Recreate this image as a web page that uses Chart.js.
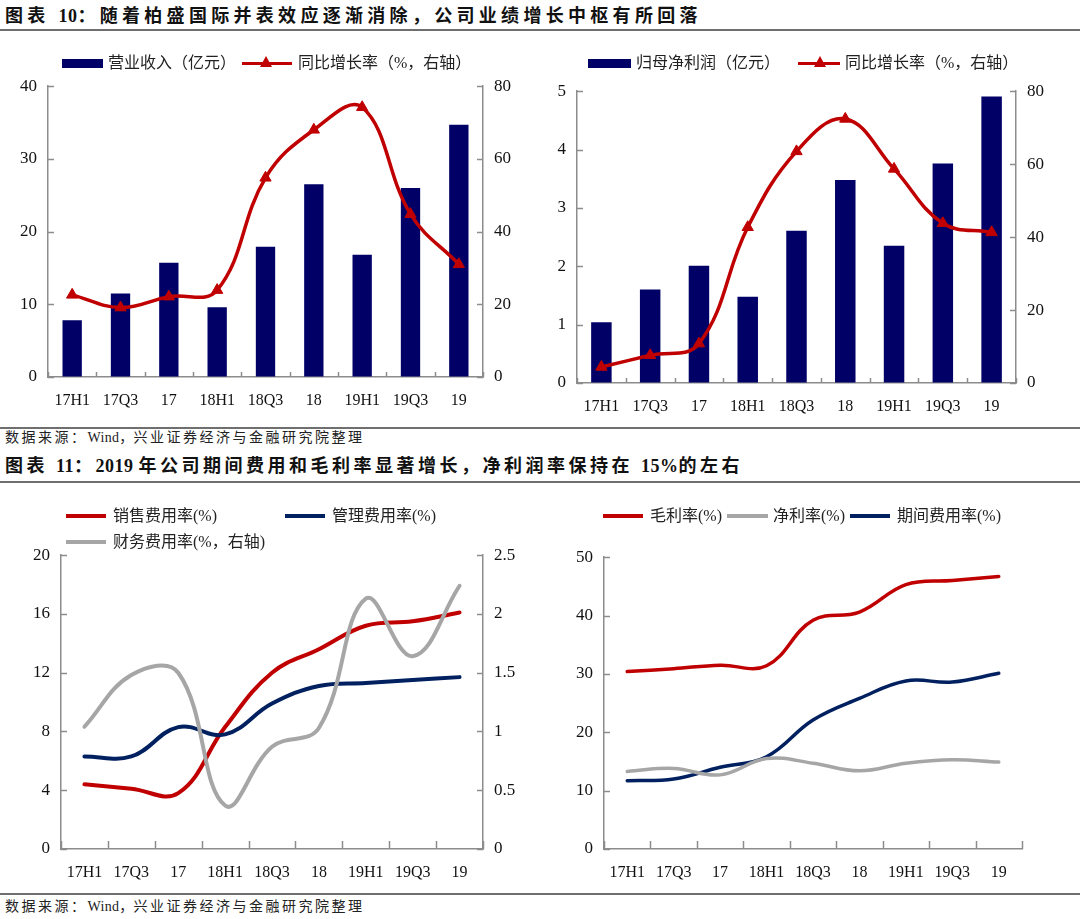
<!DOCTYPE html>
<html><head><meta charset="utf-8">
<script src="https://cdn.jsdelivr.net/npm/chart.js@4/dist/chart.umd.min.js"></script>
<style>
body{margin:0;background:#fff;}
#page{position:relative;width:1080px;height:919px;overflow:hidden;background:#fff;font-family:"Liberation Serif","Noto Sans CJK SC",serif;color:#111;}
.abs{position:absolute;}
.title{font-family:"Liberation Serif","Noto Sans CJK SC";font-weight:700;font-size:18px;line-height:22px;letter-spacing:4.3px;white-space:nowrap;left:5px;}
.title .n{letter-spacing:0.5px;}
.src{font-size:14px;line-height:16px;letter-spacing:2.5px;white-space:nowrap;left:5px;color:#222;}
.src .n{letter-spacing:0.3px;}
.hr{left:0;width:1080px;background:#6f6f6f;}
.leg{font-size:16px;line-height:18px;white-space:nowrap;color:#222;}
.sw{position:absolute;}
canvas{position:absolute;}
</style></head>
<body><div id="page">
<div class="abs title" style="top:5px">图表 <span class="n">10</span>：随着柏盛国际并表效应逐渐消除，公司业绩增长中枢有所回落</div>
<div class="abs hr" style="top:29px;height:2px"></div>

<canvas id="c1" width="540" height="355" style="left:0;top:65px"></canvas>
<canvas id="c2" width="540" height="350" style="left:540px;top:70px"></canvas>

<div class="abs hr" style="top:427px;height:2px"></div>
<div class="abs src" style="top:430px">数据来源：<span class="n">Wind，</span>兴业证券经济与金融研究院整理</div>
<div class="abs title" style="top:455px;letter-spacing:3.5px">图表 <span class="n">11</span>：<span class="n">2019 </span>年公司期间费用和毛利率显著增长，净利润率保持在 <span class="n">15%</span>的左右</div>
<div class="abs hr" style="top:481px;height:2px"></div>

<canvas id="c3" width="540" height="356" style="left:0;top:534px"></canvas>
<canvas id="c4" width="540" height="354" style="left:540px;top:536px"></canvas>

<div class="abs hr" style="top:893px;height:2px"></div>
<div class="abs src" style="top:899px">数据来源：<span class="n">Wind，</span>兴业证券经济与金融研究院整理</div>

<!-- legends -->
<div class="sw" style="left:62px;top:59px;width:41px;height:9px;background:#000066"></div>
<div class="abs leg" style="left:108px;top:54px">营业收入（亿元）</div>
<div class="sw" style="left:242px;top:62px;width:50px;height:3px;background:#C00000"></div>
<div class="sw" style="left:260px;top:56px;width:0;height:0;border-left:6px solid transparent;border-right:6px solid transparent;border-bottom:11px solid #C00000"></div>
<div class="abs leg" style="left:298px;top:54px">同比增长率（%，右轴）</div>

<div class="sw" style="left:588px;top:59px;width:43px;height:9px;background:#000066"></div>
<div class="abs leg" style="left:636px;top:54px">归母净利润（亿元）</div>
<div class="sw" style="left:798px;top:62px;width:42px;height:3px;background:#C00000"></div>
<div class="sw" style="left:814px;top:56px;width:0;height:0;border-left:6px solid transparent;border-right:6px solid transparent;border-bottom:11px solid #C00000"></div>
<div class="abs leg" style="left:845px;top:54px">同比增长率（%，右轴）</div>

<div class="sw" style="left:66px;top:514px;width:40px;height:4px;background:#C00000"></div>
<div class="abs leg" style="left:113px;top:507px">销售费用率(%)</div>
<div class="sw" style="left:285px;top:514px;width:40px;height:4px;background:#002060"></div>
<div class="abs leg" style="left:332px;top:507px">管理费用率(%)</div>
<div class="sw" style="left:66px;top:540px;width:40px;height:4px;background:#A6A6A6"></div>
<div class="abs leg" style="left:113px;top:533px">财务费用率(%，右轴)</div>

<div class="sw" style="left:603px;top:514px;width:40px;height:4px;background:#C00000"></div>
<div class="abs leg" style="left:650px;top:507px">毛利率(%)</div>
<div class="sw" style="left:727px;top:514px;width:41px;height:4px;background:#A6A6A6"></div>
<div class="abs leg" style="left:773px;top:507px">净利率(%)</div>
<div class="sw" style="left:850px;top:514px;width:40px;height:4px;background:#002060"></div>
<div class="abs leg" style="left:897px;top:507px">期间费用率(%)</div>
</div>
<script>
// ---------- data ----------
const categories = ['17H1','17Q3','17','18H1','18Q3','18','19H1','19Q3','19'];
const revenue = [7.8, 11.5, 15.7, 9.6, 17.9, 26.5, 16.8, 26.0, 34.7];
const revenueGrowth = [22.6, 19.1, 22.1, 23.9, 54.8, 68.0, 74.2, 44.8, 31.0];
const netProfit = [1.04, 1.60, 2.01, 1.48, 2.61, 3.48, 2.35, 3.76, 4.91];
const profitGrowth = [4.4, 7.6, 10.8, 42.7, 63.5, 72.4, 58.7, 43.8, 41.3];
const salesExpenseRate = [4.4, 4.1, 3.8, 8.3, 12.0, 13.6, 15.2, 15.5, 16.1];
const adminExpenseRate = [6.3, 6.3, 8.3, 7.8, 9.9, 11.1, 11.3, 11.5, 11.7];
const financeExpenseRate = [1.04, 1.48, 1.50, 0.37, 0.87, 1.03, 2.13, 1.64, 2.24];
const grossMargin = [30.4, 30.9, 31.5, 31.4, 39.2, 40.6, 45.3, 46.0, 46.7];
const netMargin = [13.3, 13.8, 12.7, 15.5, 14.7, 13.4, 14.7, 15.3, 14.9];
const periodExpenseRate = [11.7, 12.0, 14.0, 15.8, 22.1, 25.8, 28.8, 28.6, 30.1];

// ---------- style ----------
const RED = '#C00000', NAVY = '#000066', BLUE = '#002060', GRAY = '#A6A6A6', AX = '#8c8c8c';
const TF = {family: 'Liberation Serif', size: 17};
const XF = {family: 'Liberation Serif', size: 16};

const innerTicks = {
  id: 'innerTicks',
  afterDraw(chart, args, o) {
    const {ctx, chartArea: a} = chart;
    ctx.save();
    ctx.strokeStyle = AX; ctx.lineWidth = 1.5;
    const seg = (x0, y0, x1, y1) => { ctx.beginPath(); ctx.moveTo(x0, y0); ctx.lineTo(x1, y1); ctx.stroke(); };
    Object.values(chart.scales).forEach(s => {
      if (s.axis === 'y') {
        const left = s.position === 'left';
        const x0 = left ? a.left : a.right;
        s.ticks.forEach(t => { const y = Math.round(s.getPixelForValue(t.value)) + 0.5; seg(x0, y, x0 + (left ? 1 : -1) * o.ylen, y); });
      } else {
        const n = s.ticks.length;
        for (let i = 0; i <= n; i++) {
          const x = Math.round(s.getPixelForValue(i - 0.5)) + 0.5;
          seg(x, a.bottom, x, a.bottom - o.xlen);
        }
      }
    });
    ctx.restore();
  }
};

function yAxis(pos, max, step, width) {
  return {
    position: pos, min: 0, max: max,
    ticks: {stepSize: step, padding: 11, font: TF, color: '#111', callback: v => String(v)},
    grid: {drawOnChartArea: false, drawTicks: false},
    border: {color: AX, width: 1.5},
    afterFit: s => { s.width = width; }
  };
}
function xAxis(height) {
  return {
    type: 'category', offset: true,
    ticks: {padding: 14, font: XF, color: '#111', maxRotation: 0, autoSkip: false},
    grid: {drawOnChartArea: false, drawTicks: false, offset: true},
    border: {color: AX, width: 1.5},
    afterFit: s => { s.height = height; }
  };
}
function baseOpts(top, right, scales, xlen) {
  return {
    responsive: false, animation: false,
    layout: {padding: {top: top, right: right, left: 0, bottom: 0}},
    plugins: {legend: {display: false}, tooltip: {enabled: false}, innerTicks: {xlen: xlen, ylen: 6}},
    scales: scales
  };
}
function growthLine(label, data) {
  return {type: 'line', label: label, data: data, yAxisID: 'y1', borderColor: RED, backgroundColor: RED,
    borderWidth: 3.5, pointStyle: 'triangle', pointRadius: 6.5, pointBorderWidth: 1, tension: 0.4, order: 0};
}
function bars(label, data, pct) {
  return {type: 'bar', label: label, data: data, yAxisID: 'y', backgroundColor: NAVY, barPercentage: pct, categoryPercentage: 1, order: 1};
}
function smooth(label, data, color, axis, w) {
  return {type: 'line', label: label, data: data, yAxisID: axis, borderColor: color, backgroundColor: color,
    borderWidth: w, pointRadius: 0, tension: 0.4, borderCapStyle: 'round'};
}

new Chart(document.getElementById('c1'), {
  data: {labels: categories, datasets: [growthLine('同比增长率（%，右轴）', revenueGrowth), bars('营业收入（亿元）', revenue, 0.4)]},
  options: baseOpts(0, 0, {x: xAxis(43), y: yAxis('left', 40, 10, 48), y1: yAxis('right', 80, 20, 57)}, 5),
  plugins: [innerTicks]
});
new Chart(document.getElementById('c2'), {
  data: {labels: categories, datasets: [growthLine('同比增长率（%，右轴）', profitGrowth), bars('归母净利润（亿元）', netProfit, 0.42)]},
  options: baseOpts(0, 0, {x: xAxis(37), y: yAxis('left', 5, 1, 37), y1: yAxis('right', 80, 20, 64)}, 5),
  plugins: [innerTicks]
});
new Chart(document.getElementById('c3'), {
  type: 'line',
  data: {labels: categories, datasets: [
    smooth('财务费用率(%，右轴)', financeExpenseRate, GRAY, 'y1', 4),
    smooth('管理费用率(%)', adminExpenseRate, BLUE, 'y', 4),
    smooth('销售费用率(%)', salesExpenseRate, RED, 'y', 4)
  ]},
  options: baseOpts(0, 0, {x: xAxis(41), y: yAxis('left', 20, 4, 61), y1: yAxis('right', 2.5, 0.5, 57)}, 8),
  plugins: [innerTicks]
});
new Chart(document.getElementById('c4'), {
  type: 'line',
  data: {labels: categories, datasets: [
    smooth('净利率(%)', netMargin, GRAY, 'y', 3.5),
    smooth('期间费用率(%)', periodExpenseRate, BLUE, 'y', 3.5),
    smooth('毛利率(%)', grossMargin, RED, 'y', 3.5)
  ]},
  options: baseOpts(0, 58, {x: xAxis(41), y: yAxis('left', 50, 10, 64)}, 8),
  plugins: [innerTicks]
});
</script>
</body></html>
